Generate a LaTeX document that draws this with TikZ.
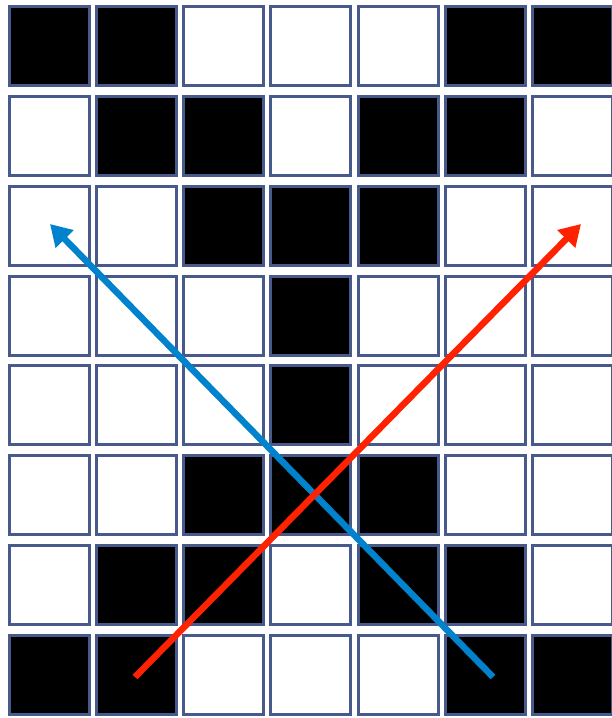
\documentclass[tikz,border=0pt]{standalone}
\usetikzlibrary{arrows.meta}
\definecolor{cellborder}{RGB}{72,90,140}
\definecolor{arrowblue}{RGB}{0,130,204}
\definecolor{arrowred}{RGB}{255,34,0}
\tikzset{
  cell/.style={draw=cellborder, line width=3pt, minimum width=80pt, minimum height=79pt, inner sep=0pt, anchor=north west, fill=white},
  dark/.style={cell, fill=black},
  arr/.style={line width=6.5pt, -{Triangle[length=21pt,width=24pt]}}
}
\begin{document}
\begin{tikzpicture}[x=1pt,y=-1pt]
\useasboundingbox (0,0) rectangle (611,718);
\foreach \r/\rowvals in {0/{1,1,0,0,0,1,1},1/{0,1,1,0,1,1,0},2/{0,0,1,1,1,0,0},3/{0,0,0,1,0,0,0},4/{0,0,0,1,0,0,0},5/{0,0,1,1,1,0,0},6/{0,1,1,0,1,1,0},7/{1,1,0,0,0,1,1}}{
  \foreach \v [count=\c from 0] in \rowvals {
    \pgfmathsetmacro{\xx}{7.5+87.33*\c}
    \pgfmathsetmacro{\yy}{5+89.86*\r}
    \ifnum\v=1
      \node[dark] (c-\r-\c) at (\xx,\yy) {};
    \else
      \node[cell] (c-\r-\c) at (\xx,\yy) {};
    \fi
  }
}
\coordinate (bs) at (493,677);
\coordinate (be) at (50,224);
\coordinate (rs) at (135,677);
\coordinate (re) at (581,224);
\draw[arr, draw=arrowblue, fill=arrowblue] (bs) -- (be);
\draw[arr, draw=arrowred, fill=arrowred] (rs) -- (re);
\end{tikzpicture}
\end{document}
